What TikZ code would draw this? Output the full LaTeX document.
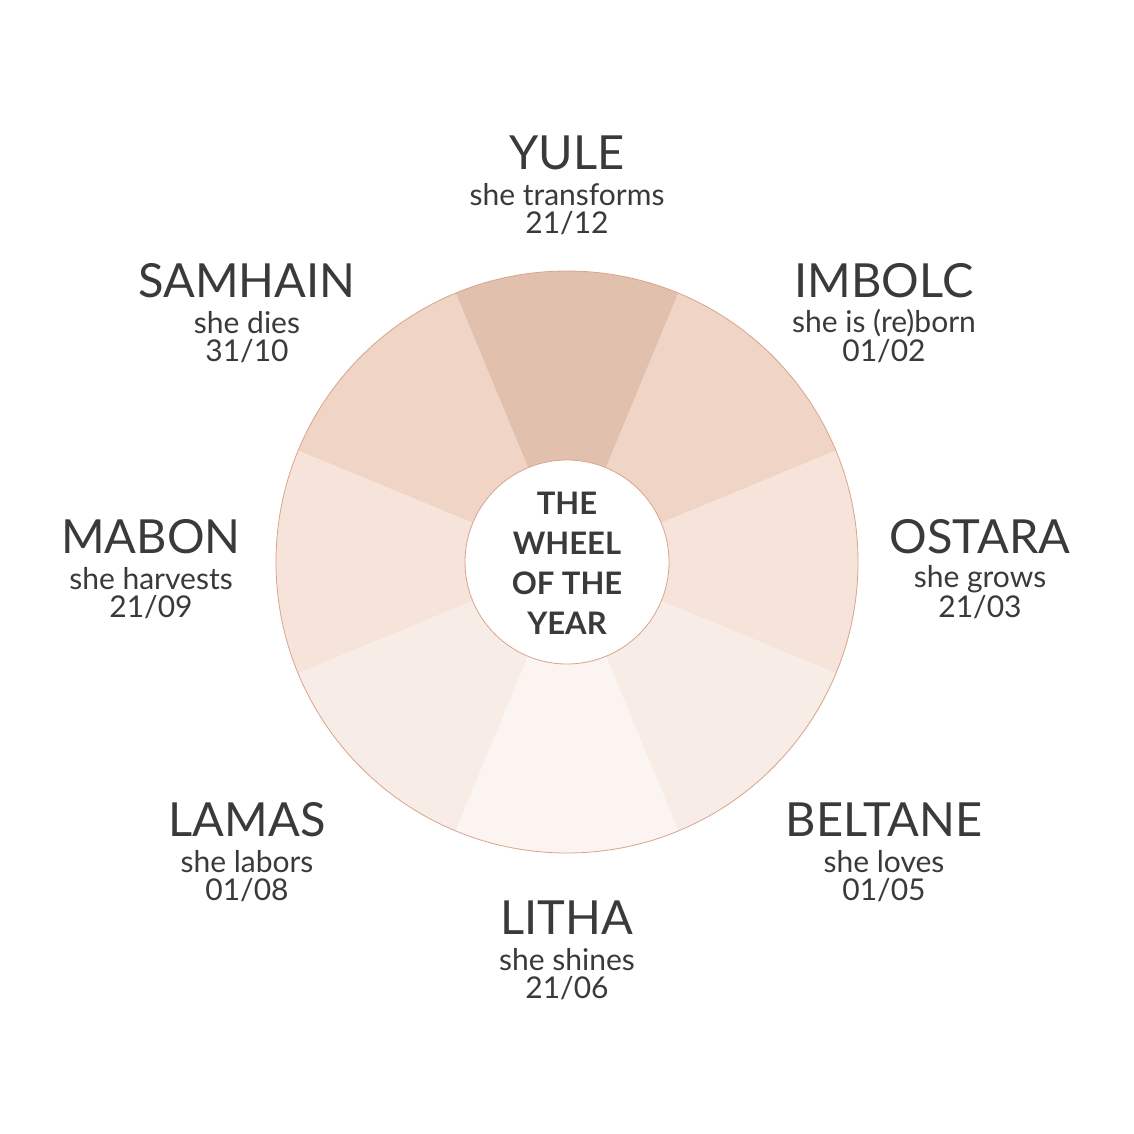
\documentclass[tikz,border=0pt]{standalone}
\usepackage{fontspec}
\setmainfont{Lato}
\definecolor{txt}{HTML}{3A3A3A}
\definecolor{edge}{HTML}{D8A48C}
\definecolor{cA}{HTML}{E2C0AE}
\definecolor{cB}{HTML}{F0D4C6}
\definecolor{cC}{HTML}{F6E4DA}
\definecolor{cD}{HTML}{F8ECE6}
\definecolor{cE}{HTML}{FBF4F0}
\begin{document}
\begin{tikzpicture}[x=1pt,y=-1pt,
  big/.style={font=\fontsize{47}{47}\selectfont,text=txt,inner sep=0},
  sub/.style={font=\fontsize{30}{30}\selectfont,text=txt,inner sep=0},
  title/.style={font=\bfseries\fontsize{31}{40}\selectfont,text=txt,align=center,inner sep=0}]
\useasboundingbox (0,0) rectangle (1134,1134);
\fill[white] (0,0) rectangle (1134,1134);
\coordinate (c) at (567,562);
\def\R{291}
\foreach \a/\col in {90/cA,45/cB,135/cB,0/cC,180/cC,-45/cD,225/cD,-90/cE}{
  \fill[\col] (c) -- ++(-\a+22.5:\R) arc[start angle=-\a+22.5,end angle=-\a-22.5,radius=\R] -- cycle;
}
\draw[edge,line width=0.8pt] (c) circle[radius=\R];
\node[circle,fill=white,draw=edge,line width=0.8pt,minimum size=204pt,inner sep=0] (hub) at (c) {};
\node[title] (t) at (567,563) {THE\\WHEEL\\OF THE\\YEAR};
\foreach \n/\x/\y/\name/\s/\d in {
 yu/567/153/YULE/she transforms/21{/}12,
 im/884/281/IMBOLC/she is (re)born/01{/}02,
 sa/247/281/SAMHAIN/she dies/31{/}10,
 os/980/537/OSTARA/she grows/21{/}03,
 ma/151/537/MABON/she harvests/21{/}09,
 be/884/820/BELTANE/she loves/01{/}05,
 la/247/820/LAMAS/she labors/01{/}08,
 li/567/918/LITHA/she shines/21{/}06}{
  \node[big] (\n a) at (\x,\y) {\name};
  \node[sub] (\n b) at (\x,\y+42) {\s};
  \node[sub] (\n c) at (\x,\y+70) {\d};
}
\end{tikzpicture}
\end{document}
